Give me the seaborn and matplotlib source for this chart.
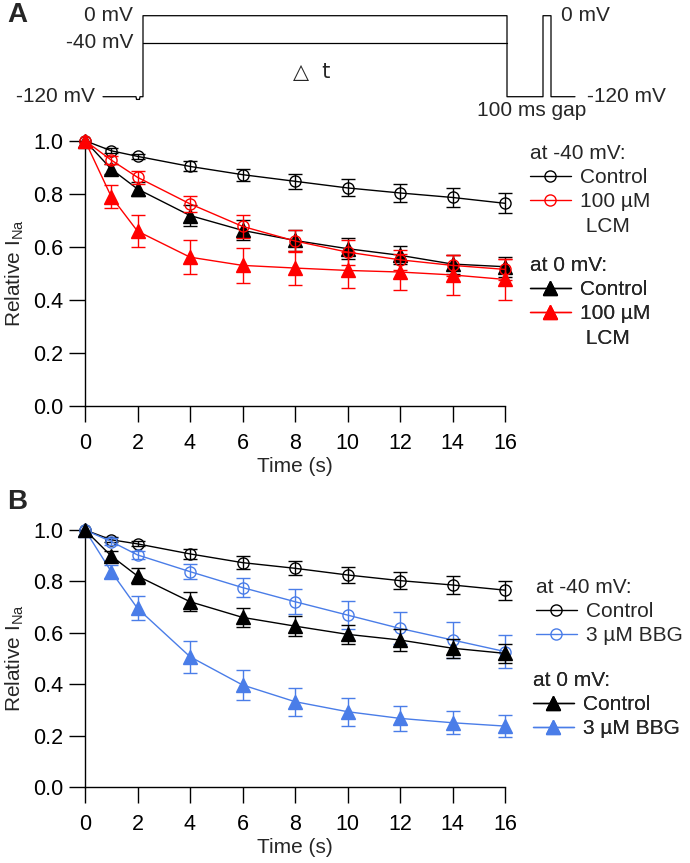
import numpy as np
import pandas as pd
import matplotlib
matplotlib.use("Agg")
import matplotlib.pyplot as plt
from matplotlib.lines import Line2D
import seaborn as sns

# time points (s)
time = [0, 1, 2, 4, 6, 8, 10, 12, 14, 16]

# panel A: lacosamide
a_ctrl40 = [1.0, 0.962, 0.941, 0.903, 0.872, 0.847, 0.822, 0.803, 0.786, 0.764]
a_ctrl40_err = [0, 0.010, 0.010, 0.019, 0.023, 0.028, 0.032, 0.035, 0.036, 0.038]
a_lcm40 = [1.0, 0.927, 0.862, 0.762, 0.677, 0.622, 0.580, 0.551, 0.530, 0.515]
a_lcm40_err = [0, 0.015, 0.024, 0.029, 0.042, 0.043, 0.047, 0.038, 0.040, 0.040]
a_ctrl0 = [1.0, 0.893, 0.818, 0.718, 0.662, 0.624, 0.593, 0.568, 0.535, 0.525]
a_ctrl0_err = [0, 0.020, 0.028, 0.038, 0.038, 0.041, 0.040, 0.034, 0.036, 0.037]
a_lcm0 = [1.0, 0.789, 0.659, 0.561, 0.530, 0.520, 0.511, 0.505, 0.494, 0.477]
a_lcm0_err = [0, 0.043, 0.061, 0.065, 0.065, 0.065, 0.068, 0.068, 0.075, 0.078]

# panel B: BBG
b_ctrl40 = [1.0, 0.962, 0.946, 0.907, 0.873, 0.851, 0.825, 0.803, 0.786, 0.766]
b_ctrl40_err = [0, 0.010, 0.010, 0.018, 0.026, 0.028, 0.031, 0.034, 0.035, 0.037]
b_bbg40 = [1.0, 0.955, 0.903, 0.838, 0.776, 0.721, 0.669, 0.617, 0.572, 0.527]
b_bbg40_err = [0, 0.012, 0.016, 0.028, 0.037, 0.049, 0.055, 0.062, 0.071, 0.065]
b_ctrl0 = [1.0, 0.899, 0.821, 0.721, 0.660, 0.626, 0.594, 0.572, 0.540, 0.520]
b_ctrl0_err = [0, 0.020, 0.030, 0.037, 0.037, 0.038, 0.037, 0.041, 0.037, 0.037]
b_bbg0 = [1.0, 0.838, 0.695, 0.507, 0.397, 0.332, 0.293, 0.267, 0.250, 0.237]
b_bbg0_err = [0, 0.026, 0.047, 0.062, 0.058, 0.054, 0.054, 0.048, 0.045, 0.043]

# voltage protocol (sketch units on x, mV on y)
proto_x = [103, 136, 136.5, 139.5, 140, 143, 143, 507, 507, 543, 543, 551, 551, 575]
proto_v = [-120, -120, -124, -124, -120, -120, 0, 0, -120, -120, 0, 0, -120, -120]
hold40_x = [143, 507]
hold40_v = [-40, -40]

BLACK = "black"
RED = "#ff0000"
BLUE = "#4a7de8"

sns.set_theme(style="ticks")
plt.rcParams["font.family"] = ["Liberation Sans", "DejaVu Sans"]
plt.rcParams["mathtext.fontset"] = "custom"
plt.rcParams["mathtext.rm"] = "Liberation Sans"
plt.rcParams["mathtext.it"] = "Liberation Sans"

FS = 15
W, H = 690, 863
fig = plt.figure(figsize=(W / 100, H / 100), dpi=100)

# ---- protocol sketch ----
axp = fig.add_axes([0, 1 - 120 / H, 1, 120 / H])
axp.set_xlim(0, W)
axp.set_ylim(-154.5, 23.26)
axp.axis("off")
axp.plot(proto_x, proto_v, color="black", lw=0.9)
axp.plot(hold40_x, hold40_v, color="black", lw=0.9)
axp.text(133, 0, "0 mV", ha="right", va="center", fontsize=FS)
axp.text(133, -40, "-40 mV", ha="right", va="center", fontsize=FS)
axp.text(95, -120, "-120 mV", ha="right", va="center", fontsize=FS)
axp.text(561, 0, "0 mV", ha="left", va="center", fontsize=FS)
axp.text(587, -120, "-120 mV", ha="left", va="center", fontsize=FS)
axp.text(312, -83.4, "\u25b3  t", ha="center", va="center", fontsize=FS,
         family=["DejaVu Sans", "Liberation Sans"])
axp.text(532, -139.7, "100 ms gap", ha="center", va="center", fontsize=FS)

fig.text(17 / W, 1 - 15 / H, "A", fontsize=20, fontweight="bold", ha="center", va="center")
fig.text(17 / W, 1 - 502 / H, "B", fontsize=20, fontweight="bold", ha="center", va="center")


def draw_series(ax, y, err, color, marker, filled, z):
    ms = 8 if marker == "o" else 10
    sns.lineplot(x=time, y=y, ax=ax, color=color, marker=marker, markersize=ms,
                 markerfacecolor=color if filled else "none", markeredgecolor=color,
                 markeredgewidth=1, linewidth=1, clip_on=False, zorder=z,
                 errorbar=None, sort=False)
    ax.errorbar(time[1:], y[1:], yerr=err[1:], fmt="none", ecolor=color,
                elinewidth=1, capsize=5, capthick=1, zorder=z, clip_on=False)


def style_axes(ax, label_y):
    ax.set_xlim(0, 16)
    ax.set_ylim(0, 1)
    ax.set_xticks(range(0, 17, 2))
    ax.set_yticks(np.arange(0, 1.01, 0.2))
    ax.set_yticklabels([f"{v:.1f}" for v in np.arange(0, 1.01, 0.2)])
    sns.despine(ax=ax)
    for s in ["left", "bottom"]:
        ax.spines[s].set_linewidth(1)
        ax.spines[s].set_color("black")
    ax.tick_params(axis="both", direction="out", length=11.5, width=1,
                   labelsize=15.5, colors="black")
    ax.tick_params(axis="x", pad=8)
    ax.tick_params(axis="y", pad=4)
    ax.set_xlabel("Time (s)", fontsize=FS)
    ax.set_ylabel("Relative I$_{\\mathregular{Na}}$", fontsize=FS)
    ax.xaxis.set_label_coords(0.5, label_y)
    ax.yaxis.set_label_coords(-0.14, 0.5)


def handle(color, marker, filled):
    if marker is None:
        return Line2D([], [], linestyle="none", marker=None)
    ms = 8 if marker == "o" else 10
    return Line2D([], [], color=color, marker=marker, markersize=ms,
                  markerfacecolor=color if filled else "none",
                  markeredgecolor=color, lw=1)


def add_legend(ax, handles, labels, title, x, y_top):
    leg = ax.legend(handles, labels, title=title, loc="upper left",
                    bbox_to_anchor=(x / W, 1 - y_top / H), bbox_transform=fig.transFigure,
                    frameon=False, fontsize=FS, title_fontsize=FS, handlelength=1.95,
                    handletextpad=0.45, labelspacing=0.25, borderpad=0, borderaxespad=0,
                    alignment="left")
    ax.add_artist(leg)
    return leg


# ---- panel A ----
axA = fig.add_axes([85 / W, 1 - 406 / H, 420 / W, 265.3 / H])
draw_series(axA, a_ctrl40, a_ctrl40_err, BLACK, "o", False, 3)
draw_series(axA, a_ctrl0, a_ctrl0_err, BLACK, "^", True, 4)
draw_series(axA, a_lcm40, a_lcm40_err, RED, "o", False, 5)
draw_series(axA, a_lcm0, a_lcm0_err, RED, "^", True, 6)
style_axes(axA, -0.192)
add_legend(axA, [handle(BLACK, "o", False), handle(RED, "o", False), handle(None, None, False)],
           ["Control", "100 \u00b5M", " LCM"], "at -40 mV:", 530, 144)
add_legend(axA, [handle(BLACK, "^", True), handle(RED, "^", True), handle(None, None, False)],
           ["Control", "100 \u00b5M", " LCM"], "at 0 mV:", 530, 256)

# ---- panel B ----
axB = fig.add_axes([85 / W, 1 - 787 / H, 420 / W, 257 / H])
draw_series(axB, b_bbg0, b_bbg0_err, BLUE, "^", True, 3)
draw_series(axB, b_ctrl40, b_ctrl40_err, BLACK, "o", False, 4)
draw_series(axB, b_bbg40, b_bbg40_err, BLUE, "o", False, 5)
draw_series(axB, b_ctrl0, b_ctrl0_err, BLACK, "^", True, 6)
style_axes(axB, -0.198)
add_legend(axB, [handle(BLACK, "o", False), handle(BLUE, "o", False)],
           ["Control", "3 \u00b5M BBG"], "at -40 mV:", 536, 578)
add_legend(axB, [handle(BLACK, "^", True), handle(BLUE, "^", True)],
           ["Control", "3 \u00b5M BBG"], "at 0 mV:", 533, 671)

fig.savefig("out.png", dpi=100)
